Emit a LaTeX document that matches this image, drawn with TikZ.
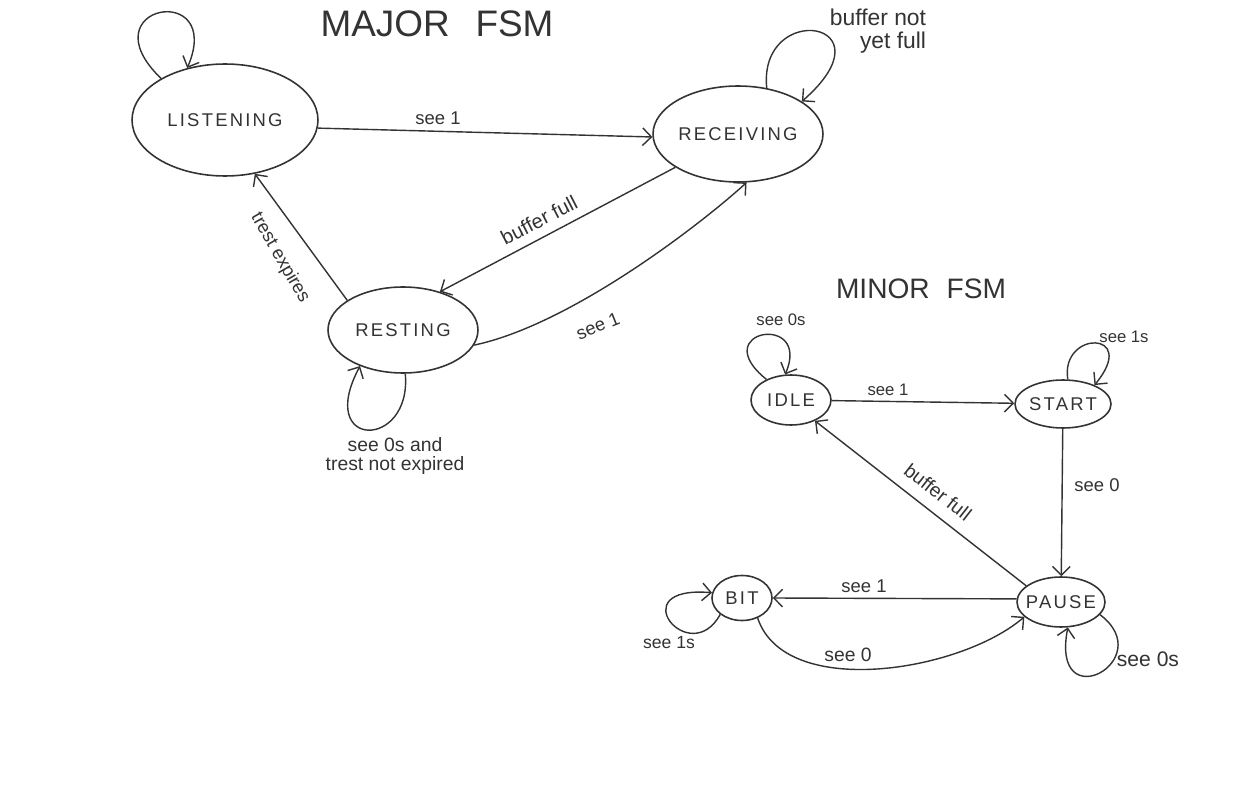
\documentclass[tikz,border=0pt]{standalone}
\usepackage{fontspec}
\setmainfont{Liberation Sans}
\newfontfamily\statefont[LetterSpace=12]{Liberation Sans}
\usetikzlibrary{arrows.meta,shapes.geometric}
\definecolor{ink}{HTML}{333333}
\begin{document}
\begin{tikzpicture}[x=0.02cm,y=-0.02cm,
  state/.style={draw=ink, ellipse, line width=0.9pt, inner sep=-4pt, text=ink,
    font=\statefont\fontsize{10.5}{12}\selectfont},
  trans/.style={draw=ink, line width=0.8pt, -{Straight Barb[length=5pt,width=10pt]}},
  lbl/.style={text=ink, inner sep=1pt, font=\fontsize{10.5}{12}\selectfont},
  titletext/.style={text=ink, inner sep=0pt}]
\fill[white] (0,0) rectangle (1238,804);
\useasboundingbox (0,0) rectangle (1238,804);

% titles
\node[titletext, font=\fontsize{21}{24}\selectfont] (t1) at (437,24) {MAJOR\hspace{0.7em}FSM};
\node[titletext, font=\fontsize{16}{18}\selectfont] (t2) at (921,289) {MINOR\hspace{0.6em}FSM};

% major states
\node[state, minimum width=3.72cm, minimum height=2.24cm] (L) at (225,120) {LISTENING};
\node[state, minimum width=3.4cm, minimum height=1.92cm] (R) at (738,134) {RECEIVING};
\node[state, minimum width=3.0cm, minimum height=1.72cm] (S) at (403,330) {RESTING};

% minor states
\node[state, minimum width=1.6cm, minimum height=1.0cm] (I) at (791,400) {IDLE};
\node[state, minimum width=1.92cm, minimum height=0.96cm] (T) at (1063,404) {START};
\node[state, minimum width=1.2cm, minimum height=0.9cm] (B) at (742,598) {BIT};
\node[state, minimum width=1.76cm, minimum height=1.0cm] (P) at (1061,602) {PAUSE};

% major transitions
\draw[trans] (L.-5) -- (R.182);
\node[lbl] (l1) at (438,118) {see 1};

\draw[trans] (R.208) -- (S.46);
\node[lbl, rotate=27, font=\fontsize{11.5}{13}\selectfont] (l2) at (539,220) {buffer full};

\draw[trans] (S.-12) .. controls (570,325) and (700,225) .. (R.-80);
\node[lbl, rotate=22] (l3) at (598,326) {see 1};

\draw[trans] (S.152) -- (L.-61);
\node[lbl, rotate=-60] (l4) at (280,258) {trest expires};

\draw[trans] (L.147) .. controls (85,5) and (225,-20) .. (L.126);

\draw[trans] (R.58) .. controls (758,0) and (895,20) .. (R.27);
\node[lbl, align=right, font=\fontsize{13}{13}\selectfont] (l5) at (878,31) {buffer not\\yet full};

\draw[trans] (S.-87) .. controls (412,450) and (315,450) .. (S.220);
\node[lbl, align=center, font=\fontsize{11}{10.5}\selectfont] (l6) at (395,456) {see 0s and\\trest not expired};

% minor transitions
\draw[trans] (I) -- (T);
\node[lbl, font=\fontsize{9.5}{11}\selectfont] (l7) at (888,390) {see 1};

\draw[trans] (T) -- (P);
\node[lbl] (l8) at (1097,485) {see 0};

\draw[trans] (P.155) -- (I.-41);
\node[lbl, rotate=-38, font=\fontsize{11}{12}\selectfont] (l9) at (938,492) {buffer full};

\draw[trans] (P.176) -- (B.east);
\node[lbl] (l10) at (864,586) {see 1};

\draw[trans] (B.-52) .. controls (785,700) and (960,672) .. (P.202);
\node[lbl, font=\fontsize{11}{12}\selectfont] (l11) at (848,655) {see 0};

\draw[trans] (I.140) .. controls (705,330) and (812,312) .. (I.103);
\node[lbl, font=\fontsize{9.5}{11}\selectfont] (l12) at (781,320) {see 0s};

\draw[trans] (T.79) .. controls (1060,330) and (1140,330) .. (T.31);
\node[lbl, font=\fontsize{9.5}{11}\selectfont] (l13) at (1124,337) {see 1s};

\draw[trans] (B.217) .. controls (690,670) and (620,585) .. (B.170);
\node[lbl, font=\fontsize{10}{11}\selectfont] (l14) at (669,643) {see 1s};

\draw[trans] (P.-18) .. controls (1160,660) and (1050,720) .. (P.-75);
\node[lbl, font=\fontsize{12}{13}\selectfont] (l15) at (1148,659) {see 0s};
\end{tikzpicture}
\end{document}
